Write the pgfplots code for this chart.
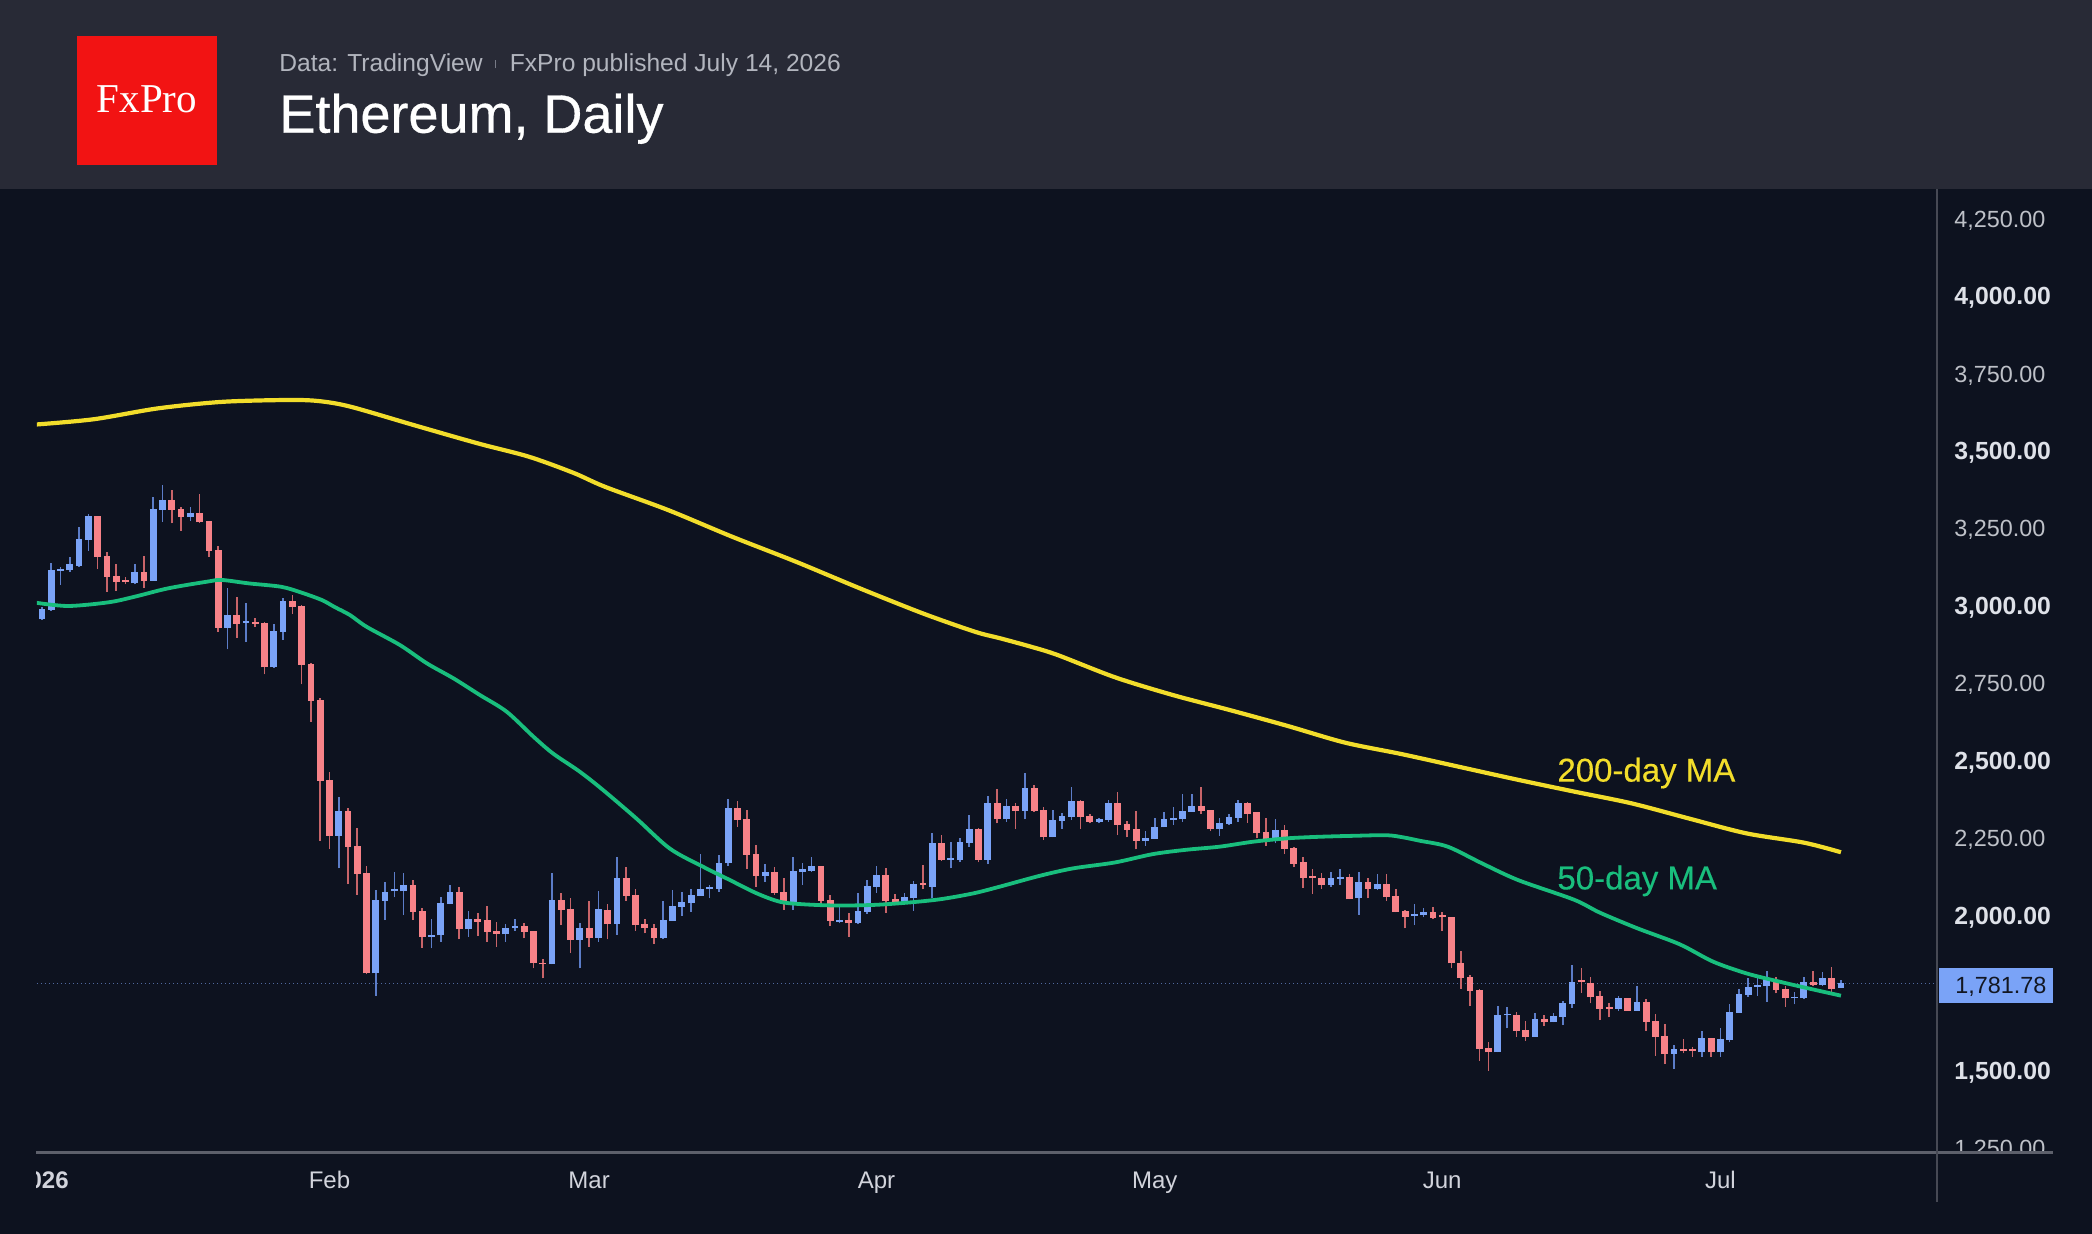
\documentclass[border=0pt]{standalone}
\usepackage{pgfplots}
\usepackage{pgfplotstable}
\pgfplotsset{compat=1.18}
\usepackage{fontspec}
\setmainfont{Liberation Sans}
\newfontfamily\fxserif{Liberation Serif}
\newfontfamily\medsans[FakeBold=0.6]{Liberation Sans}
\newfontfamily\lblsans[FakeBold=0.35]{Liberation Sans}

\definecolor{headerbg}{RGB}{40,42,54}
\definecolor{chartbg}{RGB}{13,18,31}
\definecolor{fxred}{RGB}{242,19,19}
\definecolor{subgrey}{RGB}{178,181,190}
\definecolor{sepgrey}{RGB}{120,123,135}
\definecolor{upbody}{RGB}{122,163,247}
\definecolor{upwick}{RGB}{92,125,200}
\definecolor{downbody}{RGB}{247,130,136}
\definecolor{downwick}{RGB}{200,100,105}
\definecolor{maY}{RGB}{242,221,43}
\definecolor{maG}{RGB}{25,190,125}
\definecolor{priceline}{RGB}{80,105,160}
\definecolor{axisline}{RGB}{93,96,107}
\definecolor{vline}{RGB}{70,73,84}
\definecolor{labB}{RGB}{222,225,232}
\definecolor{labR}{RGB}{190,193,200}
\definecolor{xlab}{RGB}{210,212,220}
\definecolor{boxtext}{RGB}{19,23,34}

\pgfplotstableread{
d o h l c
0 2957 2998 2955 2990
1 2988 3138 2985 3115
2 3113 3127 3068 3120
3 3115 3157 3111 3135
4 3130 3254 3127 3215
5 3213 3297 3179 3290
6 3290 3292 3119 3159
7 3161 3173 3046 3093
8 3096 3134 3050 3077
9 3081 3093 3070 3079
10 3073 3135 3070 3111
11 3111 3161 3058 3082
12 3082 3351 3080 3312
13 3311 3391 3272 3343
14 3343 3376 3267 3311
15 3312 3318 3243 3287
16 3287 3321 3276 3301
17 3301 3361 3268 3271
18 3273 3273 3159 3179
19 3181 3193 2917 2930
20 2930 3057 2860 2971
21 2971 3030 2898 2942
22 2946 3009 2883 2950
23 2947 2960 2933 2942
24 2944 2949 2779 2802
25 2802 2941 2800 2920
26 2917 3026 2891 3017
27 3017 3034 2974 2996
28 3000 3003 2747 2810
29 2812 2815 2626 2693
30 2695 2702 2242 2436
31 2439 2465 2215 2258
32 2258 2384 2153 2339
33 2339 2349 2102 2223
34 2226 2284 2067 2134
35 2137 2160 1811 1814
36 1814 2083 1742 2051
37 2049 2110 1986 2078
38 2079 2140 2059 2083
39 2079 2137 2002 2098
40 2098 2117 1986 2013
41 2016 2024 1897 1932
42 1932 1991 1895 1939
43 1937 2061 1916 2040
44 2038 2099 2037 2078
45 2078 2094 1924 1956
46 1956 2016 1932 1988
47 1988 2010 1935 1981
48 1985 2031 1916 1948
49 1951 1981 1900 1941
50 1940 1973 1916 1961
51 1959 1988 1952 1967
52 1967 1977 1927 1948
53 1951 1951 1830 1846
54 1849 1860 1798 1843
55 1843 2137 1843 2051
56 2051 2074 1970 2018
57 2021 2056 1881 1922
58 1922 1977 1830 1959
59 1959 2047 1900 1929
60 1929 2080 1916 2021
61 2020 2037 1924 1973
62 1973 2191 1938 2121
63 2121 2156 2049 2064
64 2066 2086 1952 1970
65 1973 1988 1943 1959
66 1961 1972 1909 1927
67 1927 2047 1924 1985
68 1983 2083 1983 2031
69 2029 2078 2000 2043
70 2040 2086 2013 2067
71 2064 2198 2064 2086
72 2085 2099 2056 2092
73 2087 2196 2078 2171
74 2169 2377 2162 2347
75 2347 2370 2287 2309
76 2311 2343 2150 2196
77 2198 2228 2094 2129
78 2129 2167 2110 2140
79 2140 2158 2067 2074
80 2078 2121 2020 2045
81 2045 2191 2018 2144
82 2142 2169 2099 2150
83 2145 2191 2142 2159
84 2159 2161 2031 2048
85 2051 2066 1967 1983
86 1981 2031 1975 1986
87 1986 2010 1932 1975
88 1975 2074 1973 2016
89 2013 2115 2005 2097
90 2094 2160 2074 2133
91 2133 2153 2010 2047
92 2053 2069 2037 2046
93 2045 2074 2045 2059
94 2056 2113 2016 2102
95 2102 2164 2085 2099
96 2094 2266 2056 2235
97 2235 2260 2177 2180
98 2180 2238 2153 2184
99 2180 2250 2173 2238
100 2235 2324 2223 2280
101 2280 2283 2172 2180
102 2180 2386 2167 2363
103 2363 2409 2298 2311
104 2311 2377 2304 2354
105 2354 2363 2280 2339
106 2339 2460 2311 2412
107 2412 2421 2335 2338
108 2343 2350 2246 2253
109 2253 2343 2253 2308
110 2306 2331 2281 2323
111 2320 2417 2309 2369
112 2369 2373 2281 2320
113 2323 2330 2298 2304
114 2304 2314 2298 2311
115 2309 2373 2304 2363
116 2363 2398 2260 2293
117 2296 2306 2253 2277
118 2280 2339 2214 2242
119 2242 2273 2226 2250
120 2247 2314 2247 2287
121 2285 2334 2285 2311
122 2309 2350 2293 2314
123 2311 2393 2304 2338
124 2336 2393 2336 2354
125 2354 2417 2330 2339
126 2343 2343 2273 2280
127 2280 2317 2258 2300
128 2296 2330 2293 2320
129 2317 2374 2304 2363
130 2363 2366 2301 2330
131 2334 2334 2250 2266
132 2269 2314 2226 2247
133 2247 2311 2234 2277
134 2277 2293 2199 2215
135 2219 2221 2156 2168
136 2172 2191 2090 2123
137 2124 2150 2070 2122
138 2123 2137 2086 2099
139 2099 2140 2094 2123
140 2118 2150 2099 2126
141 2125 2134 2053 2053
142 2056 2140 2004 2110
143 2110 2121 2056 2086
144 2086 2134 2083 2102
145 2102 2134 2048 2060
146 2064 2086 2011 2013
147 2016 2020 1959 1997
148 1999 2037 1970 2004
149 2002 2024 1995 2011
150 2011 2027 1988 1994
151 1997 2011 1952 1995
152 1997 1997 1830 1846
153 1849 1886 1765 1800
154 1802 1808 1709 1757
155 1760 1764 1532 1570
156 1574 1591 1500 1559
157 1559 1709 1559 1681
158 1678 1705 1636 1681
159 1681 1689 1609 1629
160 1631 1660 1597 1609
161 1609 1686 1609 1666
162 1666 1681 1644 1656
163 1656 1687 1656 1675
164 1672 1725 1647 1717
165 1714 1841 1703 1787
166 1789 1830 1752 1786
167 1784 1803 1717 1737
168 1741 1757 1663 1699
169 1703 1719 1672 1700
170 1699 1741 1693 1733
171 1733 1736 1694 1694
172 1694 1773 1694 1720
173 1720 1730 1629 1657
174 1659 1682 1548 1609
175 1613 1651 1523 1553
176 1554 1582 1505 1570
177 1570 1601 1556 1563
178 1566 1577 1545 1563
179 1559 1628 1545 1604
180 1604 1604 1545 1559
181 1559 1636 1545 1601
182 1599 1714 1591 1690
183 1687 1765 1687 1747
184 1745 1798 1739 1771
185 1770 1798 1742 1773
186 1773 1823 1722 1791
187 1791 1803 1749 1760
188 1763 1773 1706 1733
189 1733 1753 1714 1736
190 1733 1803 1731 1786
191 1787 1821 1774 1776
192 1775 1817 1773 1798
193 1798 1834 1746 1763
194 1768 1792 1766 1781.78
}\candles

\pgfplotsset{
  candlepart/.style={only marks, mark=*, mark size=0pt,
    mark options={draw opacity=0, fill opacity=0}, forget plot},
}

\begin{document}
\begin{tikzpicture}
\useasboundingbox (0pt,0pt) rectangle (1046pt,-617pt);
\fill[chartbg] (0pt,0pt) rectangle (1046pt,-617pt);
\fill[headerbg] (0pt,0pt) rectangle (1046pt,-94.5pt);
\fill[fxred] (38.5pt,-18pt) rectangle (108.5pt,-82.5pt);
\node[text=white, inner sep=0pt, font=\fxserif\fontsize{20.5}{22}\selectfont] at (73.5pt,-49.5pt) {FxPro};
\node[anchor=base west, inner sep=0pt, text=subgrey, font=\fontsize{12.3}{14}\selectfont] at (139.5pt,-35.85pt)
  {Data: TradingView\hspace{6pt}{\color{sepgrey}\rule[1.7pt]{0.6pt}{4.2pt}}\hspace{7pt}FxPro published July 14, 2026};
\node[anchor=base west, inner sep=0pt, text=white, font=\medsans\fontsize{27}{30}\selectfont] at (139.5pt,-66.35pt) {Ethereum, Daily};

\begin{axis}[
  at={(18.5pt,-576.35pt)}, anchor=south west,
  scale only axis, width=950pt, height=481.35pt,
  xmin=-0.539, xmax=204.36, ymin=1235, ymax=4343,
  clip mode=individual,
  axis line style={draw=none}, tick style={draw=none},
  xtick={0,31,59,90,120,151,181},
  xticklabels={\textbf{2026},Feb,Mar,Apr,May,Jun,Jul},
  xticklabel style={anchor=base, inner sep=0pt, yshift=-17.8pt, text=xlab, font=\fontsize{12}{14}\selectfont},
  ytick={1250,1500,2000,2250,2500,2750,3000,3250,3500,3750,4000,4250},
  yticklabels={
    {\color{labR}\fontsize{11.7}{14}\selectfont 1,250.00},
    {\color{labB}\fontsize{12.4}{14}\selectfont\bfseries 1,500.00},
    {\color{labB}\fontsize{12.4}{14}\selectfont\bfseries 2,000.00},
    {\color{labR}\fontsize{11.7}{14}\selectfont 2,250.00},
    {\color{labB}\fontsize{12.4}{14}\selectfont\bfseries 2,500.00},
    {\color{labR}\fontsize{11.7}{14}\selectfont 2,750.00},
    {\color{labB}\fontsize{12.4}{14}\selectfont\bfseries 3,000.00},
    {\color{labR}\fontsize{11.7}{14}\selectfont 3,250.00},
    {\color{labB}\fontsize{12.4}{14}\selectfont\bfseries 3,500.00},
    {\color{labR}\fontsize{11.7}{14}\selectfont 3,750.00},
    {\color{labB}\fontsize{12.4}{14}\selectfont\bfseries 4,000.00},
    {\color{labR}\fontsize{11.7}{14}\selectfont 4,250.00}},
  yticklabel pos=right,
  yticklabel style={anchor=west, inner sep=0pt, text height=8.4pt, text depth=0pt, xshift=8.5pt},
]
% current price line
\addplot[priceline, line width=0.65pt, dash pattern=on 0.7pt off 1.3pt, forget plot]
  coordinates {(-0.539,1781.78) (204.36,1781.78)};
% up candles: wicks and bodies
\addplot[candlepart,
  restrict expr to domain={\thisrow{c}-\thisrow{o}}{0:100000},
  error bars/.cd, y dir=plus, y explicit, error mark=none,
  error bar style={line width=0.8pt, color=upwick}]
  table[x=d, y=l, y error plus expr=\thisrow{h}-\thisrow{l}] {\candles};
\addplot[candlepart,
  restrict expr to domain={\thisrow{c}-\thisrow{o}}{0:100000},
  error bars/.cd, y dir=plus, y explicit, error mark=none,
  error bar style={line width=3.4pt, color=upbody}]
  table[x=d, y expr={min(\thisrow{o},\thisrow{c})}, y error plus expr={max(abs(\thisrow{c}-\thisrow{o}),6)}] {\candles};
% down candles: wicks and bodies
\addplot[candlepart,
  restrict expr to domain={\thisrow{c}-\thisrow{o}}{-100000:0},
  error bars/.cd, y dir=plus, y explicit, error mark=none,
  error bar style={line width=0.8pt, color=downwick}]
  table[x=d, y=l, y error plus expr=\thisrow{h}-\thisrow{l}] {\candles};
\addplot[candlepart,
  restrict expr to domain={\thisrow{c}-\thisrow{o}}{-100000:0},
  error bars/.cd, y dir=plus, y explicit, error mark=none,
  error bar style={line width=3.4pt, color=downbody}]
  table[x=d, y expr={min(\thisrow{o},\thisrow{c})}, y error plus expr={max(abs(\thisrow{c}-\thisrow{o}),6)}] {\candles};
% 200-day MA
\addplot[maY, line width=2.1pt, smooth] coordinates {
(-0.6,3586) (5.6,3603) (12.5,3638) (19.4,3659) (26.3,3665) (29.7,3662) (33.2,3644) (40.1,3584)
(47,3525) (52.5,3482) (57.3,3430) (60.7,3385) (67.5,3310) (74.4,3224) (81.3,3143) (88.2,3057)
(95,2976) (100.6,2917) (103.3,2896) (106.6,2869) (109.5,2842) (115.7,2770) (121.9,2713)
(128.1,2664) (134.3,2613) (140.5,2559) (146.6,2522) (152.8,2481) (159,2440) (165.2,2401)
(171.4,2363) (177.6,2314) (183.8,2266) (190,2236) (194,2205)};
% 50-day MA
\addplot[maG, line width=1.9pt, smooth] coordinates {
(-0.75,3011) (2.8,3000) (7.2,3012) (10,3030) (13.6,3057) (17.9,3079) (19.4,3084) (22.3,3073)
(25.8,3062) (28,3043) (30.2,3019) (31.6,2996) (33.2,2971) (35,2933) (38.6,2874) (41.5,2815)
(44.4,2766) (47.2,2713) (50.1,2659) (53,2578) (55.1,2524) (58,2465) (60.5,2406) (64.1,2314)
(67.7,2217) (71.3,2158) (74.2,2115) (77.1,2072) (79.6,2045) (82.1,2037) (85.7,2033) (89.7,2035)
(93.2,2042) (96.8,2053) (100.4,2072) (103.3,2094) (107.6,2129) (111.2,2153) (115.7,2172)
(119.8,2199) (123.4,2213) (127,2223) (130.6,2239) (134.3,2250) (137.8,2255) (141.4,2258)
(145,2260) (146.8,2253) (148.6,2242) (151.6,2223) (155.3,2169) (159.2,2115) (165.2,2052)
(168,2010) (172,1960) (176.6,1908) (180.2,1852) (183.8,1814) (187.4,1787) (191,1762) (194,1742)};
\end{axis}

% covers for clipped labels
\fill[chartbg] (969.5pt,-577pt) rectangle (1046pt,-617pt);
\fill[chartbg] (0pt,-578pt) rectangle (18pt,-610pt);
% axis lines
\draw[axisline, line width=1.25pt] (18pt,-576.35pt) -- (1026.5pt,-576.35pt);
\draw[vline, line width=0.7pt] (968.5pt,-94.5pt) -- (968.5pt,-601pt);
% current price box
\fill[upbody] (969.5pt,-484pt) rectangle (1026.5pt,-501.5pt);
\node[anchor=base west, inner sep=0pt, text=boxtext, font=\fontsize{11.7}{14}\selectfont] at (977.5pt,-496.95pt) {1,781.78};
% MA labels
\node[anchor=base west, inner sep=0pt, text=maY, font=\lblsans\fontsize{16.5}{18}\selectfont] at (778.5pt,-390.8pt) {200-day MA};
\node[anchor=base west, inner sep=0pt, text=maG, font=\lblsans\fontsize{16.5}{18}\selectfont] at (778.5pt,-444.7pt) {50-day MA};
\end{tikzpicture}
\end{document}
